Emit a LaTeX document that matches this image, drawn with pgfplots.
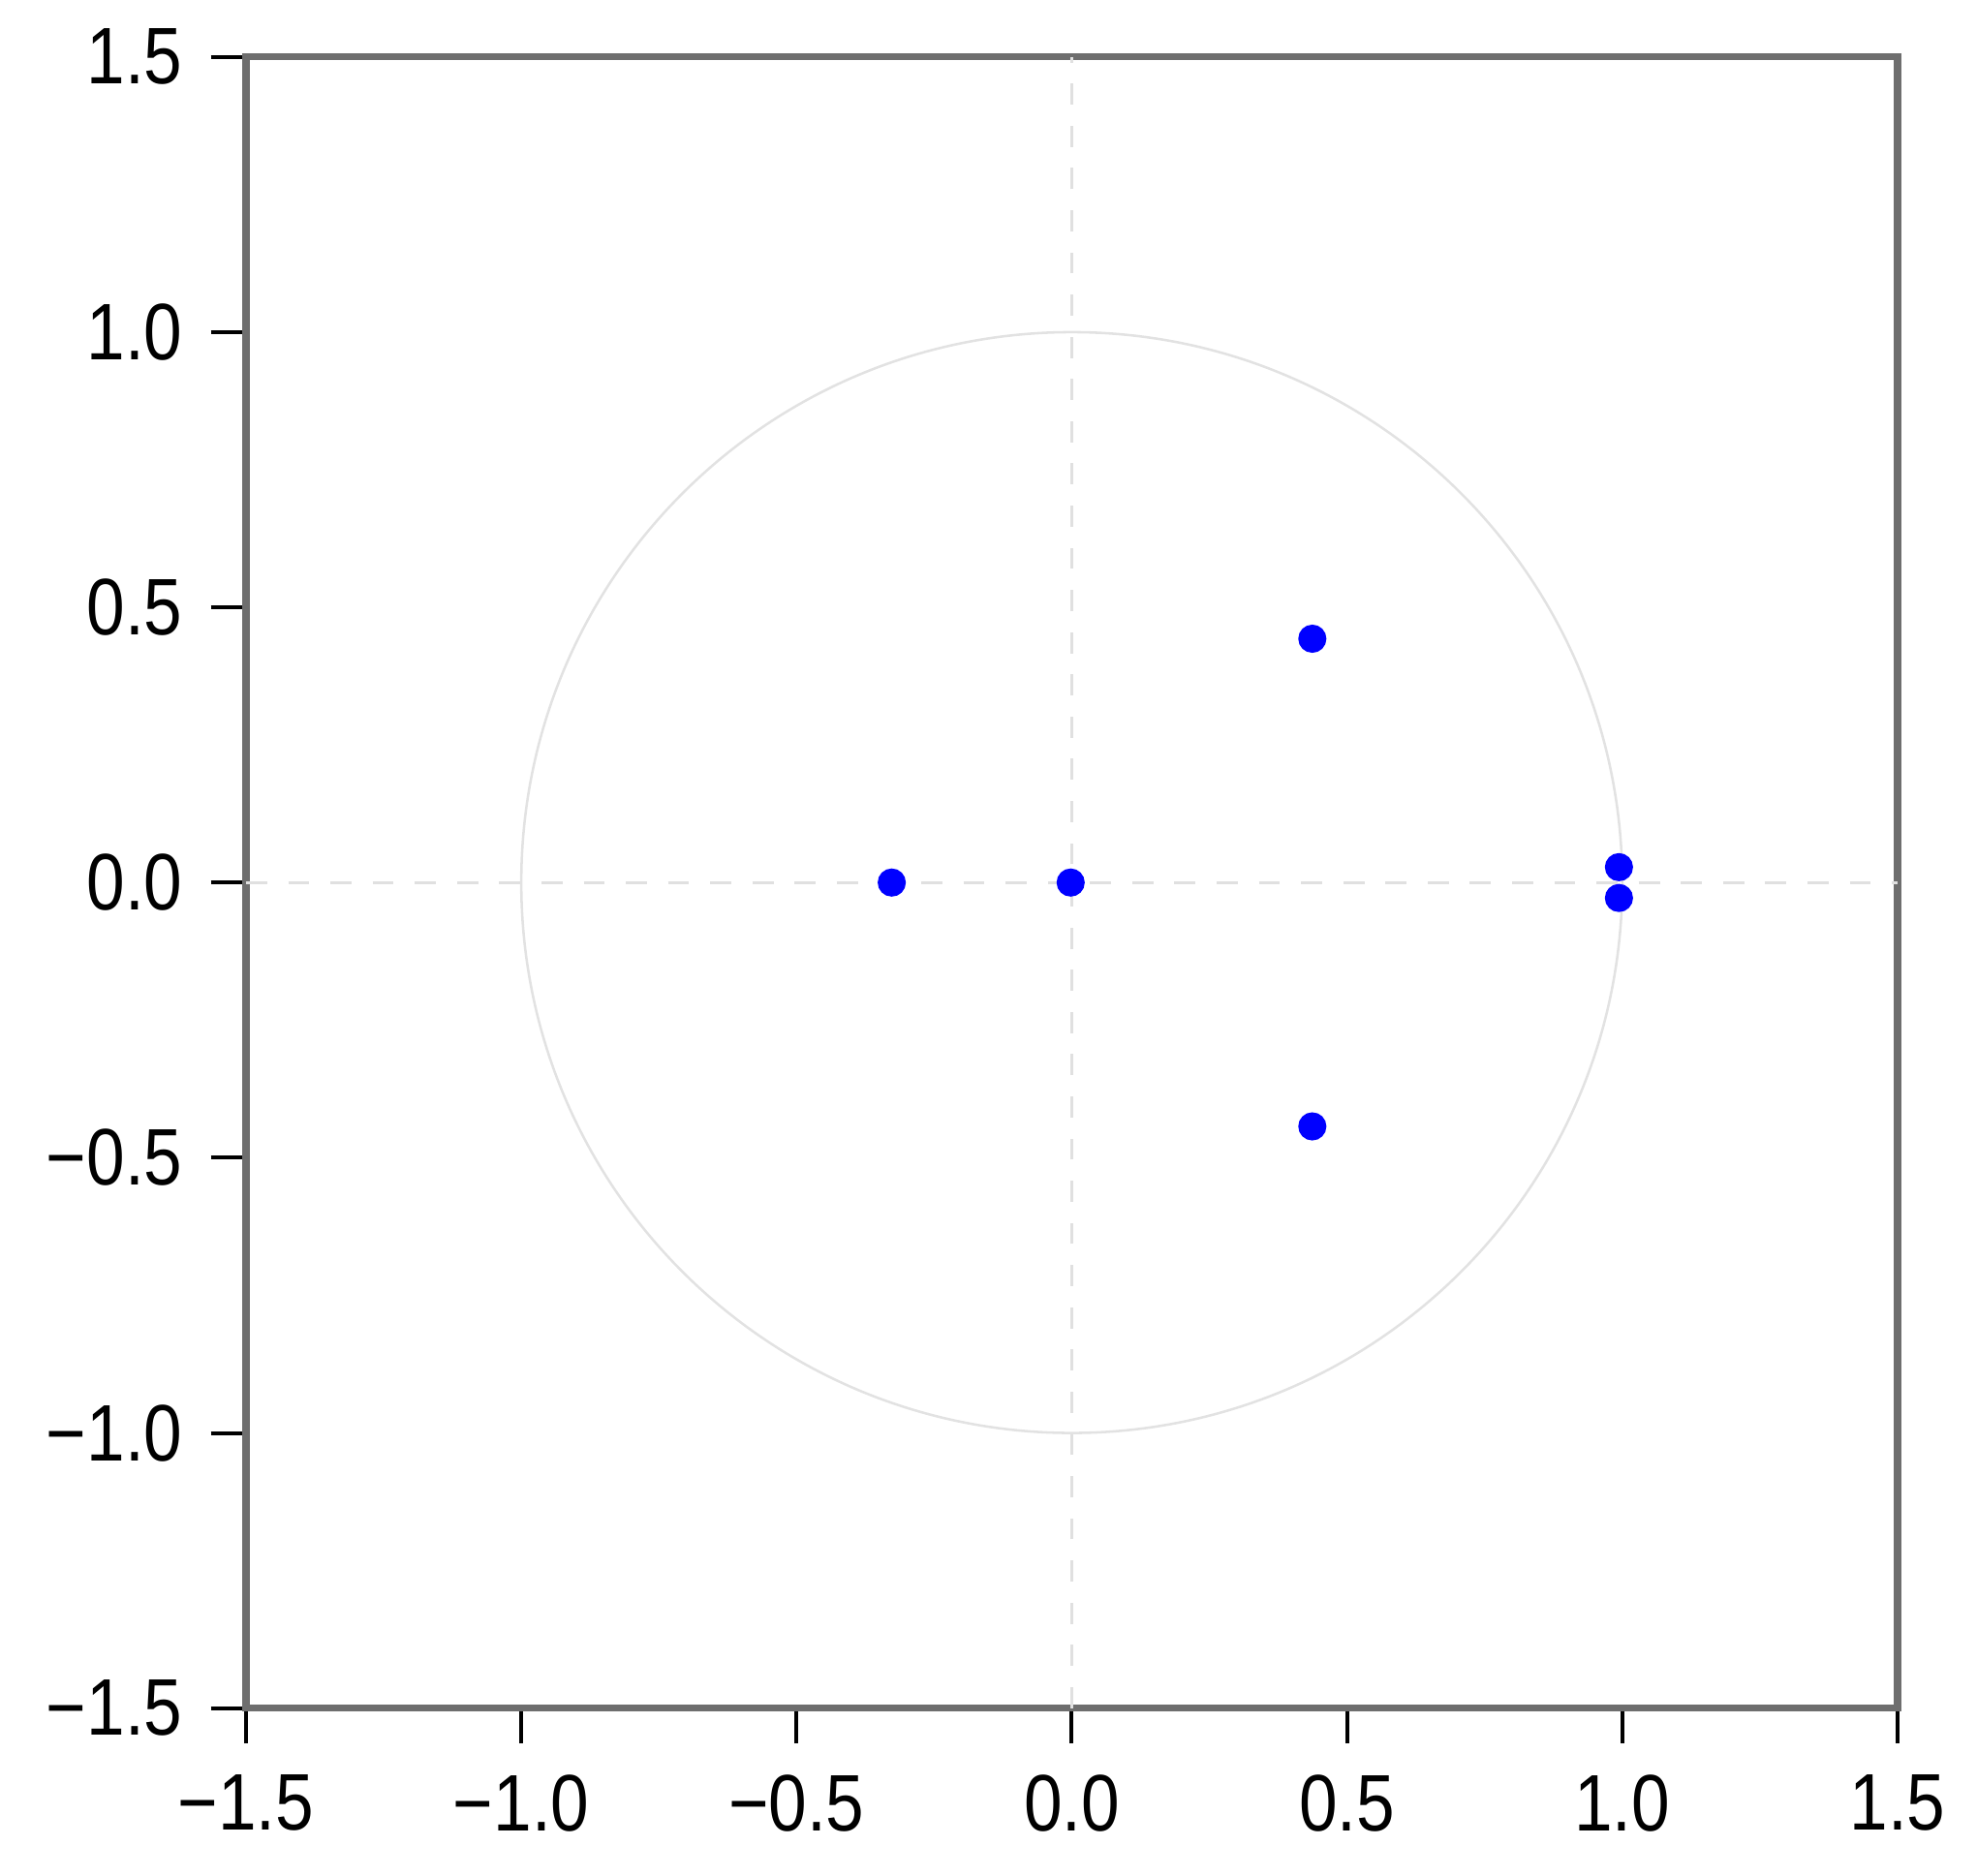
\documentclass[border=0pt]{standalone}
\usepackage{fontspec}
\setmainfont{Liberation Sans}
\usepackage{graphicx}
\usepackage{pgfplots}
\pgfplotsset{compat=1.18}
\definecolor{framegray}{HTML}{6E6E6E}
\definecolor{circgray}{HTML}{E2E2E2}
\definecolor{dashgray}{HTML}{E0E0E0}
\newcommand{\tl}[1]{\scalebox{0.98}[1.14]{#1}}
\begin{document}
\begin{tikzpicture}
\begin{axis}[
  scale only axis,
  width=234.8pt, height=234.8pt,
  xmin=-1.5, xmax=1.5, ymin=-1.5, ymax=1.5,
  xtick={-1.5,-1,-0.5,0,0.5,1,1.5},
  ytick={-1.5,-1,-0.5,0,0.5,1,1.5},
  xticklabels={\tl{−1.5},\tl{−1.0},\tl{−0.5},\tl{0.0},\tl{0.5},\tl{1.0},\tl{1.5}},
  yticklabels={\tl{−1.5},\tl{−1.0},\tl{−0.5},\tl{0.0},\tl{0.5},\tl{1.0},\tl{1.5}},
  tick pos=left,
  tick align=outside,
  major tick length=5pt,
  tick style={black, line width=0.55pt},
  axis line style={framegray, line width=1pt},
  ticklabel style={font=\fontsize{10}{12}\selectfont},
  xticklabel style={yshift=-1pt},
  yticklabel style={xshift=-0.5pt},
  clip=false,
]
\draw[dashgray, dashed, line width=0.35pt] (axis cs:0,-1.5) -- (axis cs:0,1.5);
\draw[dashgray, dashed, line width=0.35pt] (axis cs:-1.5,0) -- (axis cs:1.5,0);
\draw[circgray, line width=0.35pt] (axis cs:0,0) circle[radius=1];
\addplot[only marks, mark=*, mark size=1.8pt, color=blue] coordinates {
  (-0.327,0) (-0.002,0) (0.437,0.443) (0.437,-0.443) (0.994,0.028) (0.994,-0.028)
};
\end{axis}
\path ([shift={(-34.98pt,-23.82pt)}]current axis.south west) rectangle ([shift={(246.1pt,242.9pt)}]current axis.south west);
\end{tikzpicture}
\end{document}
